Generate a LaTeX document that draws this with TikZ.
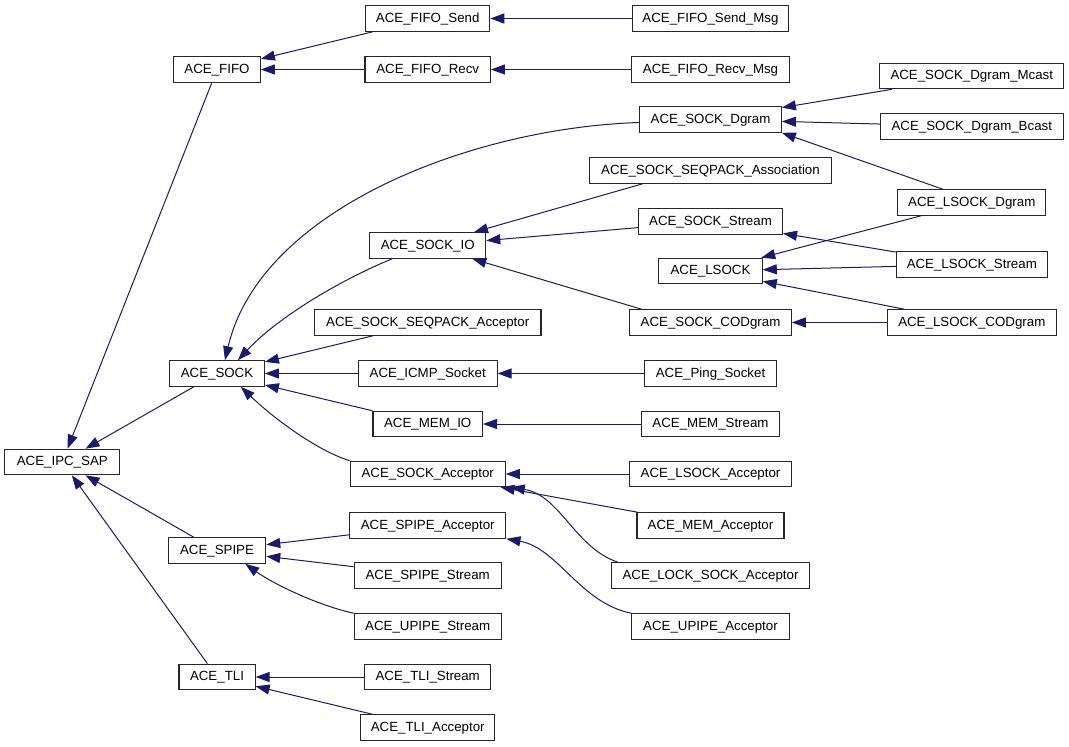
\documentclass[tikz,border=0pt]{standalone}
\usepackage{fontspec}
\setmainfont{Liberation Sans}
\usetikzlibrary{arrows.meta,calc}
\definecolor{navy}{HTML}{191970}
\begin{document}
\begin{tikzpicture}[x=1pt,y=-1pt,
  box/.style={draw=black!85, line width=1.1pt, fill=white, minimum height=25.5pt, inner sep=0pt,
    font=\fontsize{13.3}{15}\selectfont, text height=9.5pt, text depth=2.5pt},
  inh/.style={draw=navy, line width=1pt, {Triangle[length=14pt,width=10pt]}-}]
\useasboundingbox (0,0) rectangle (1069,747);
% column 0
\node[box, minimum width=115pt] (ipc) at (62.3,462) {ACE\_IPC\_SAP};
% column 1
\node[box, minimum width=86.7pt] (fifo) at (217,69.5) {ACE\_FIFO};
\node[box, minimum width=94.7pt] (sock) at (217,373.5) {ACE\_SOCK};
\node[box, minimum width=97.4pt] (spipe) at (217,550.5) {ACE\_SPIPE};
\node[box, minimum width=76.1pt] (tli) at (217,677) {ACE\_TLI};
% column 2
\node[box, minimum width=124pt] (fifosend) at (427.7,18.5) {ACE\_FIFO\_Send};
\node[box, minimum width=125.4pt] (fiforecv) at (427.7,69.5) {ACE\_FIFO\_Recv};
\node[box, minimum width=116pt] (sockio) at (427.7,245.5) {ACE\_SOCK\_IO};
\node[box, minimum width=226.6pt] (seqacc) at (427.7,322.5) {ACE\_SOCK\_SEQPACK\_Acceptor};
\node[box, minimum width=138.7pt] (icmp) at (427.7,373.5) {ACE\_ICMP\_Socket};
\node[box, minimum width=109.5pt] (memio) at (427.7,424) {ACE\_MEM\_IO};
\node[box, minimum width=155pt] (sockacc) at (427.7,474) {ACE\_SOCK\_Acceptor};
\node[box, minimum width=156.4pt] (spipeacc) at (427.7,525.5) {ACE\_SPIPE\_Acceptor};
\node[box, minimum width=147pt] (spipestream) at (427.7,575.5) {ACE\_SPIPE\_Stream};
\node[box, minimum width=147pt] (upipestream) at (427.7,626.5) {ACE\_UPIPE\_Stream};
\node[box, minimum width=125.7pt] (tlistream) at (427.7,677) {ACE\_TLI\_Stream};
\node[box, minimum width=134.3pt] (tliacc) at (427.7,727.5) {ACE\_TLI\_Acceptor};
% column 3
\node[box, minimum width=156pt] (fifosendmsg) at (710.5,18.5) {ACE\_FIFO\_Send\_Msg};
\node[box, minimum width=157.4pt] (fiforecvmsg) at (710.5,69.5) {ACE\_FIFO\_Recv\_Msg};
\node[box, minimum width=141.6pt] (dgram) at (710.5,119.5) {ACE\_SOCK\_Dgram};
\node[box, minimum width=242.7pt] (assoc) at (710.5,170.5) {ACE\_SOCK\_SEQPACK\_Association};
\node[box, minimum width=144pt] (stream) at (710.5,221.5) {ACE\_SOCK\_Stream};
\node[box, minimum width=103.5pt] (lsock) at (710.5,271) {ACE\_LSOCK};
\node[box, minimum width=161.6pt] (codgram) at (710.5,322.5) {ACE\_SOCK\_CODgram};
\node[box, minimum width=131.6pt] (ping) at (710.5,373.5) {ACE\_Ping\_Socket};
\node[box, minimum width=137.5pt] (memstream) at (710.5,424) {ACE\_MEM\_Stream};
\node[box, minimum width=161.6pt] (lsockacc) at (710.5,474) {ACE\_LSOCK\_Acceptor};
\node[box, minimum width=147pt] (memacc) at (710.5,525.5) {ACE\_MEM\_Acceptor};
\node[box, minimum width=198pt] (locksockacc) at (710.5,575.5) {ACE\_LOCK\_SOCK\_Acceptor};
\node[box, minimum width=157.4pt] (upipeacc) at (710.5,626.5) {ACE\_UPIPE\_Acceptor};
% column 4
\node[box, minimum width=184pt] (mcast) at (971.8,76) {ACE\_SOCK\_Dgram\_Mcast};
\node[box, minimum width=183pt] (bcast) at (971.8,126.5) {ACE\_SOCK\_Dgram\_Bcast};
\node[box, minimum width=147.8pt] (lsdgram) at (971.8,202.5) {ACE\_LSOCK\_Dgram};
\node[box, minimum width=151pt] (lsstream) at (971.8,264.5) {ACE\_LSOCK\_Stream};
\node[box, minimum width=168.5pt] (lscodgram) at (971.8,322.5) {ACE\_LSOCK\_CODgram};
% edges
\draw[inh] (ipc) -- (fifo);
\draw[inh] (ipc) -- (sock);
\draw[inh] (ipc) -- (spipe);
\draw[inh] (ipc) -- (tli);
\draw[inh] (fifo) -- (fifosend);
\draw[inh] (fifo) -- (fiforecv);
\draw[inh] (fifosend) -- (fifosendmsg);
\draw[inh] (fiforecv) -- (fiforecvmsg);
\draw[inh] ($(sock.north)+(8,0)$) .. controls (260,210) and (470,128) .. ($(dgram.west)+(0,3)$);
\draw[inh] ($(sock.north east)+(-27,0)$) .. controls (280,315) and (345,278) .. ($(sockio.south west)+(23,0)$);
\draw[inh] (sock) -- (seqacc);
\draw[inh] (sock) -- (icmp);
\draw[inh] (sock) -- (memio);
\draw[inh] ($(sock.south east)+(-24,0)$) .. controls (270,415) and (315,450) .. (sockacc.north west);
\draw[inh] (dgram) -- (mcast);
\draw[inh] (dgram) -- (bcast);
\draw[inh] (dgram.south east) -- ($(lsdgram.north)+(-29,0)$);
\draw[inh] (sockio) -- ($(assoc.south)+(-68,0)$);
\draw[inh] (sockio) -- (stream);
\draw[inh] (sockio) -- ($(codgram.north)+(-69,0)$);
\draw[inh] (stream) -- (lsstream);
\draw[inh] (lsock) -- (lsdgram);
\draw[inh] (lsock) -- (lsstream);
\draw[inh] (lsock) -- (lscodgram);
\draw[inh] (codgram) -- (lscodgram);
\draw[inh] (icmp) -- (ping);
\draw[inh] (memio) -- (memstream);
\draw[inh] (sockacc) -- (lsockacc);
\draw[inh] (sockacc) -- (memacc);
\draw[inh] ($(sockacc.south east)+(5,0)$) .. controls (560,495) and (575,548) .. ($(locksockacc.north west)+(7,0)$);
\draw[inh] (spipe) -- (spipeacc);
\draw[inh] (spipe) -- (spipestream);
\draw[inh] ($(spipe.south east)+(-21,0)$) .. controls (275,585) and (320,606) .. (upipestream.north west);
\draw[inh] (spipeacc.south east) .. controls (558,548) and (580,603) .. (upipeacc.north west);
\draw[inh] (tli) -- (tlistream);
\draw[inh] (tli) -- (tliacc);
\end{tikzpicture}
\end{document}
